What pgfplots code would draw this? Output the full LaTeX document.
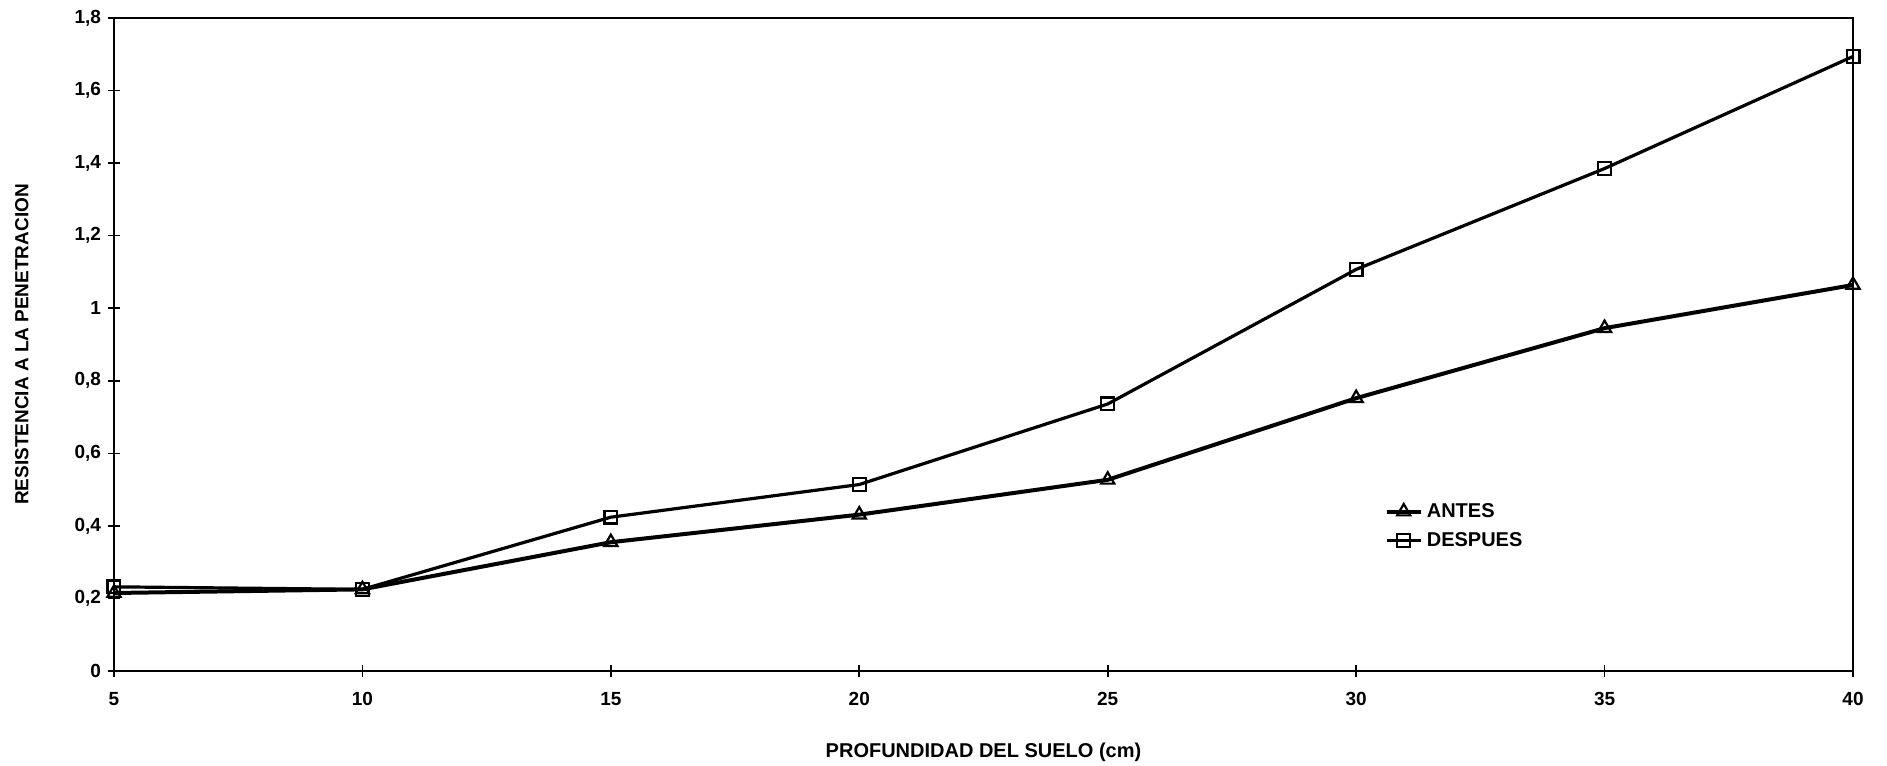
\documentclass[border=0pt]{standalone}
\usepackage{fontspec}
\setmainfont{Liberation Sans}
\usepackage{pgfplots}
\pgfplotsset{compat=1.18}
\begin{document}
\begin{tikzpicture}
\useasboundingbox (0,0) rectangle (943.5pt,383pt);
\begin{axis}[
  at={(57pt,47.5pt)}, anchor=south west,
  scale only axis, width=869.5pt, height=326.5pt,
  xmin=5, xmax=40, ymin=0, ymax=1.8,
  xtick={5,10,...,40}, ytick={0,0.2,...,1.8},
  tick pos=left,
  tick align=center, major tick length=6pt,
  axis line style={line width=1pt}, tick style={line width=0.8pt, black},
  /pgf/number format/assume math mode=true,
  /pgf/number format/use comma,
  tick label style={font=\fontsize{9.5}{11}\bfseries},
  xticklabel style={yshift=-4pt},
  xlabel={PROFUNDIDAD DEL SUELO (cm)},
  ylabel={RESISTENCIA A LA PENETRACION},
  xlabel style={at={(axis description cs:0.5,-0.124)}, anchor=center, font=\fontsize{10}{12}\bfseries},
  ylabel style={at={(axis description cs:-0.053,0.5)}, anchor=center, font=\fontsize{9.5}{12}\bfseries},
  legend style={draw=none, fill=none, at={(rel axis cs:0.727,0.27)}, anchor=north west,
    font=\fontsize{10}{12}\bfseries, row sep=2pt},
  legend cell align=left,
]
\addplot[black, line width=2pt, mark=triangle, mark size=3.8pt, mark options={solid, line width=1.1pt, fill=white}]
  coordinates {(5,0.215) (10,0.225) (15,0.355) (20,0.431) (25,0.527) (30,0.752) (35,0.945) (40,1.064)};
\addlegendentry{ANTES}
\addplot[black, line width=1.6pt, mark=square, mark size=3.2pt, mark options={solid, line width=1.1pt, fill=white}]
  coordinates {(5,0.232) (10,0.225) (15,0.424) (20,0.514) (25,0.736) (30,1.107) (35,1.385) (40,1.694)};
\addlegendentry{DESPUES}
\end{axis}
\end{tikzpicture}
\end{document}
